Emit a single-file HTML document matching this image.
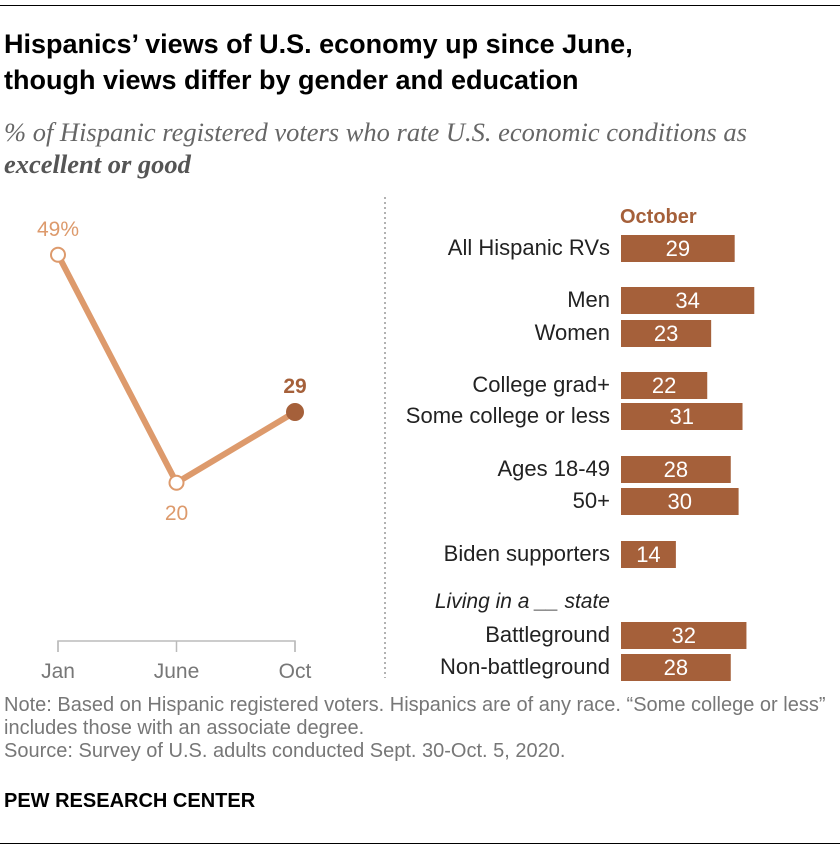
<!DOCTYPE html>
<html><head><meta charset="utf-8"><style>
body{margin:0;background:#fff;font-family:"Liberation Sans",sans-serif;}
#wrap{position:relative;width:840px;height:848px;overflow:hidden;}
.t{position:absolute;white-space:nowrap;}
</style></head><body>
<div id="wrap">
<div style="position:absolute;left:0;top:5px;width:840px;height:1px;background:#000"></div>
<div class="t" style="left:4px;top:26px;font-size:27px;font-weight:bold;line-height:36px;color:#000">Hispanics’ views of U.S. economy up since June,<br>though views differ by gender and education</div>
<div class="t" style="left:4px;top:116px;font-family:'Liberation Serif',serif;font-style:italic;font-size:26.5px;line-height:32px;color:#666">% of Hispanic registered voters who rate U.S. economic conditions as<br><b style="color:#555">excellent or good</b></div>
<svg id="svg" width="840" height="848" style="position:absolute;left:0;top:0"></svg>
<div class="t" style="left:4px;top:694px;font-size:20px;line-height:23px;color:#777">Note: Based on Hispanic registered voters. Hispanics are of any race. “Some college or less”<br>includes those with an associate degree.<br>Source: Survey of U.S. adults conducted Sept. 30-Oct. 5, 2020.</div>
<div class="t" style="left:4px;top:790px;font-size:20px;font-weight:bold;color:#000">PEW RESEARCH CENTER</div>
<div style="position:absolute;left:0;top:843px;width:840px;height:1px;background:#000"></div>
</div>
<script>
const months=["Jan","June","Oct"];
const trendValues=[49,20,29];
const trendLabels=["49%","20","29"];
const groups=["All Hispanic RVs","Men","Women","College grad+","Some college or less","Ages 18-49","50+","Biden supporters","Battleground","Non-battleground"];
const octValues=[29,34,23,22,31,28,30,14,32,28];
const NS="http://www.w3.org/2000/svg";
const svg=document.getElementById('svg');
function mk(tag,attrs,text){const e=document.createElementNS(NS,tag);for(const k in attrs)e.setAttribute(k,attrs[k]);if(text!==undefined)e.textContent=text;svg.appendChild(e);return e;}
const xL=i=>58+i*118.5;
const yL=v=>640-v*7.862;
const xB=v=>621+v*3.92;
const rowY=[248,300,333,385,416,469,501,554,635,667];
let d=mk('line',{x1:385,y1:197,x2:385,y2:678,stroke:'#999','stroke-width':1.5,'stroke-dasharray':'2,3'});


let ax=mk('polyline',{points:`${xL(0)},652 ${xL(0)},641 ${xL(2)},641 ${xL(2)},652`,fill:'none',stroke:'#bbb','stroke-width':1.5});


months.forEach((m,i)=>{
 let tk=mk('line',{x1:xL(i),y1:641,x2:xL(i),y2:652,stroke:'#bbb','stroke-width':1.5});
 
 
 let t=mk('text',{x:xL(i),y:678,'text-anchor':'middle','font-size':21,fill:'#777'},m);
 
 
});
let ln=mk('polyline',{points:trendValues.map((v,i)=>xL(i)+','+yL(v)).join(' '),fill:'none',stroke:'#dd9a6c','stroke-width':6});


trendValues.forEach((v,i)=>{
 const last=i===trendValues.length-1;
 let c=mk('circle',{cx:xL(i),cy:yL(v),r:last?8:7,fill:last?'#a5603a':'#fff',stroke:last?'#a5603a':'#dd9a6c','stroke-width':2});
 
 
 const below=i>0&&!last&&v<trendValues[i-1]&&v<trendValues[i+1];
 let t=mk('text',{x:xL(i),y:below?yL(v)+37:yL(v)-19,'text-anchor':'middle','font-size':21,'font-weight':last?'bold':'normal',fill:last?'#a5603a':'#dd9a6c'},trendLabels[i]);
 
 
});
let h=mk('text',{x:620,y:223,'font-size':20,'font-weight':'bold',fill:'#a5603a'},'October');


let lv=mk('text',{x:610,y:608,'text-anchor':'end','font-size':21,'font-style':'italic',fill:'#222'},'Living in a __ state');


groups.forEach((g,i)=>{
 const y=rowY[i];
 let t=mk('text',{x:610,y:y+7,'text-anchor':'end','font-size':22,fill:'#222'},g);
 
 
 let r=mk('rect',{x:621,y:y-13,width:xB(octValues[i])-621,height:27,fill:'#a5603a'});
 
 
 let v=mk('text',{x:(621+xB(octValues[i]))/2,y:y+8,'text-anchor':'middle','font-size':22,fill:'#fff'},octValues[i]);
 
 
});
</script>
</body></html>
